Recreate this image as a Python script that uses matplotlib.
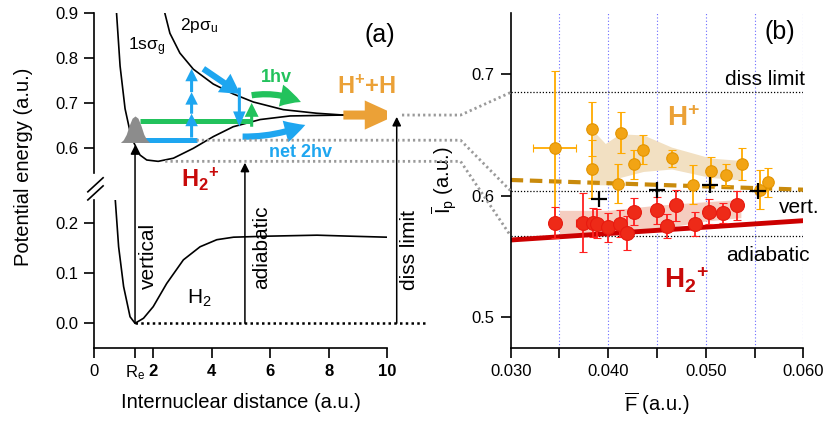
import numpy as np
import matplotlib
matplotlib.use('Agg')
import matplotlib.pyplot as plt
from matplotlib.patches import FancyArrowPatch, ConnectionPatch
from matplotlib.lines import Line2D

plt.rcParams['font.family'] = ['Liberation Sans', 'DejaVu Sans']
plt.rcParams['mathtext.fontset'] = 'custom'
plt.rcParams['mathtext.rm'] = 'Liberation Sans'
plt.rcParams['mathtext.it'] = 'Liberation Sans:italic'
plt.rcParams['mathtext.bf'] = 'Liberation Sans:bold'

# ---- panel (a): potential curves
h2_R = [0.71, 0.83, 1.00, 1.22, 1.39, 1.68, 2.01, 2.47, 3.04, 3.61, 4.18, 4.75, 5.9, 7.6, 8.74, 9.98]
h2_E = [0.250, 0.152, 0.073, 0.013, 0.0, 0.010, 0.033, 0.079, 0.126, 0.152, 0.166, 0.171, 0.173, 0.175, 0.173, 0.171]

sg_R = [0.70, 0.76, 0.88, 1.05, 1.22, 1.33, 1.56, 1.79, 2.18, 2.70, 3.38, 4.06, 4.74, 5.66, 6.68, 8.5]
sg_E = [0.96, 0.90, 0.783, 0.688, 0.637, 0.615, 0.585, 0.574, 0.571, 0.578, 0.600, 0.626, 0.648, 0.664, 0.672, 0.674]

su_R = [2.33, 2.41, 2.58, 2.92, 3.38, 4.06, 4.74, 5.43, 6.45, 7.59, 8.5]
su_E = [0.95, 0.90, 0.856, 0.812, 0.776, 0.743, 0.721, 0.703, 0.686, 0.678, 0.674]

# nuclear wavepacket sketch (offsets from Re, heights)
bell_dR = [-0.5, -0.4, -0.3, -0.2, -0.1, 0.0, 0.1, 0.2, 0.3, 0.4, 0.5]
bell_h = [0.0, 0.006, 0.018, 0.038, 0.054, 0.059, 0.054, 0.038, 0.018, 0.006, 0.0]

Re = 1.39
a_levels = {'diss': 0.674, 'vert': 0.618, 'adia': 0.571}
a_level_start = {'diss': 10.5, 'vert': 3.49, 'adia': 2.42}
arrow_R = {'vert': 1.39, 'adia': 5.14, 'diss': 10.32}
arrow_tip = {'vert': 0.607, 'adia': 0.568, 'diss': 0.670}

# ---- panel (b): measured ionization potentials
hp_F = [0.0345, 0.0383, 0.0383, 0.0413, 0.0410, 0.0426, 0.0436, 0.0465, 0.0487, 0.0505, 0.0521, 0.0537, 0.0556, 0.0564]
hp_Ip = [0.639, 0.655, 0.622, 0.652, 0.610, 0.626, 0.638, 0.631, 0.609, 0.620, 0.617, 0.626, 0.605, 0.611]
hp_err = [0.064, 0.022, 0.024, 0.017, 0.016, 0.012, 0.012, 0.007, 0.016, 0.012, 0.009, 0.013, 0.016, 0.012]
hp_xerr = [0.0022, 0.0003, 0, 0.0003, 0, 0, 0, 0, 0, 0, 0, 0.0003, 0, 0]

h2p_F = [0.0345, 0.0374, 0.0384, 0.0389, 0.0400, 0.0412, 0.0419, 0.0426, 0.0450, 0.0460, 0.0470, 0.0489, 0.0503, 0.0518, 0.0532]
h2p_Ip = [0.578, 0.578, 0.578, 0.577, 0.574, 0.577, 0.569, 0.587, 0.588, 0.575, 0.592, 0.577, 0.587, 0.586, 0.592]
h2p_err = [0.0125, 0.024, 0.012, 0.012, 0.012, 0.011, 0.014, 0.011, 0.011, 0.010, 0.013, 0.010, 0.010, 0.008, 0.012]
h2p_xerr = [0, 0.0007, 0, 0, 0, 0, 0, 0, 0, 0, 0, 0, 0, 0, 0]

vert_F = [0.0391, 0.0450, 0.0504, 0.0554]
vert_Ip = [0.597, 0.605, 0.609, 0.604]

hp_fit_F = [0.030, 0.060]
hp_fit_Ip = [0.613, 0.605]
h2p_fit_F = [0.030, 0.060]
h2p_fit_Ip = [0.5636, 0.5795]

hp_band_F = [0.0384, 0.0397, 0.0412, 0.0436, 0.0465, 0.0505, 0.0537]
hp_band_lo = [0.609, 0.609, 0.615, 0.620, 0.622, 0.615, 0.613]
hp_band_hi = [0.654, 0.643, 0.651, 0.650, 0.640, 0.631, 0.629]

h2p_band_F = [0.0350, 0.0400, 0.0447, 0.0498, 0.0536]
h2p_band_lo = [0.565, 0.568, 0.572, 0.579, 0.582]
h2p_band_hi = [0.588, 0.588, 0.592, 0.595, 0.597]

b_levels = {'diss': 0.685, 'vert': 0.604, 'adia': 0.567}
grid_F = [0.035, 0.040, 0.045, 0.050, 0.055, 0.060]

BLUE = '#1ea6f0'
GREEN = '#22c25c'
ORANGE = '#eba137'
DARKRED = '#c80a0a'
H2P = r'$\mathbf{H}_\mathbf{2}{}^\mathbf{+}$'

fig = plt.figure(figsize=(8.25, 4.21), dpi=100)
ax_top = fig.add_axes([0.1143, 0.589, 0.3552, 0.379])
ax_bot = fig.add_axes([0.1143, 0.1741, 0.3552, 0.351])
ax_b = fig.add_axes([0.619, 0.1741, 0.3547, 0.794])

for ax in (ax_top, ax_bot, ax_b):
    for s in ('top', 'right'):
        ax.spines[s].set_visible(False)
    for s in ('left', 'bottom'):
        ax.spines[s].set_linewidth(1.2)
    ax.tick_params(direction='out', length=7.5, width=1.2, labelsize=12, pad=4)
    ax.patch.set_alpha(0)
ax_top.spines['bottom'].set_visible(False)
ax_top.set_xticks([])

# ---------------- panel (a)
ax_top.set_xlim(0, 10)
ax_top.set_ylim(0.545, 0.9)
ax_top.set_yticks([0.6, 0.7, 0.8, 0.9])
ax_top.set_yticklabels(['0.6', '0.7', '0.8', '0.9'])
ax_bot.set_xlim(0, 10)
ax_bot.set_ylim(-0.0485, 0.245)
ax_bot.set_yticks([0.0, 0.1, 0.2])
ax_bot.set_yticklabels(['0.0', '0.1', '0.2'])
ax_bot.set_xticks([0, Re, 2, 4, 6, 8, 10])
ax_bot.set_xticklabels(['0', r'R$_\mathrm{e}$', '2', '4', '6', '8', '10'])
for lab in ax_bot.get_xticklabels()[2:]:
    lab.set_fontweight('bold')
ax_bot.set_xlabel('Internuclear distance (a.u.)', fontsize=14.5, labelpad=8)
fig.text(0.028, 0.603, 'Potential energy (a.u.)', rotation=90, fontsize=14.5,
         ha='center', va='center')

ax_bot.plot(h2_R, h2_E, color='k', lw=1.2)
ax_top.plot(sg_R, sg_E, color='k', lw=1.2)
ax_top.plot(su_R, su_E, color='k', lw=1.2)
ax_bot.plot([Re, 11.3], [0, 0], color='k', lw=1.8, ls=(0, (1, 1.3)), clip_on=False)

# break marks on the y axis
for dy in (0.0, 0.055):
    ax_bot.plot([-0.022, 0.03], [1.0 + dy, 1.095 + dy], color='k', lw=1.2,
                transform=ax_bot.transAxes, clip_on=False)

# photon paths
ax_top.plot([1.56, 5.37], [0.660, 0.660], color=GREEN, lw=3.6, solid_capstyle='butt', zorder=3)
ax_top.plot([1.56, 3.49], [a_levels['vert'], a_levels['vert']], color=BLUE, lw=3.6,
            solid_capstyle='butt', zorder=3)
bx = [Re + d for d in bell_dR]
ax_top.fill_between(bx, 0.613, [0.613 + h for h in bell_h], color='#8c8c8c', lw=0, zorder=4)


def arrow(ax, p0, p1, color, hw, hl, tw, rad=0.0, z=5):
    a = FancyArrowPatch(p0, p1, mutation_scale=10, color=color, lw=0,
                        arrowstyle=f'simple,head_width={hw},head_length={hl},tail_width={tw}',
                        connectionstyle=f'arc3,rad={rad}', shrinkA=0, shrinkB=0, zorder=z)
    ax.add_patch(a)


for e0, e1 in [(0.624, 0.677), (0.677, 0.725), (0.725, 0.777)]:
    arrow(ax_top, (3.32, e0), (3.32, e1), BLUE, 0.9, 0.9, 0.22)
arrow(ax_top, (3.72, 0.777), (4.98, 0.721), BLUE, 1.6, 1.4, 0.45)
arrow(ax_top, (4.95, 0.735), (4.95, 0.648), BLUE, 0.9, 1.1, 0.22)
arrow(ax_top, (5.37, 0.648), (5.37, 0.701), GREEN, 1.0, 1.0, 0.22)
arrow(ax_top, (5.37, 0.718), (7.05, 0.703), GREEN, 1.6, 1.5, 0.45, rad=-0.15)
arrow(ax_top, (5.06, 0.626), (7.2, 0.652), BLUE, 1.6, 1.5, 0.45, rad=0.1)
arrow(ax_top, (8.5, 0.674), (10.32, 0.674), ORANGE, 2.1, 2.3, 0.65)

for k in ('vert', 'adia', 'diss'):
    con = ConnectionPatch(xyA=(arrow_R[k], 0.0), coordsA=ax_bot.transData,
                          xyB=(arrow_R[k], arrow_tip[k]), coordsB=ax_top.transData,
                          arrowstyle='-|>', mutation_scale=13, lw=1.1, color='k',
                          shrinkA=0, shrinkB=0)
    fig.add_artist(con)

ax_top.text(1.77, 0.826, r'1sσ$_\mathrm{g}$', fontsize=12.5, ha='center', va='center')
ax_top.text(3.56, 0.874, r'2pσ$_\mathrm{u}$', fontsize=12.5, ha='center', va='center')
ax_top.text(9.75, 0.852, '(a)', fontsize=18, ha='center', va='center')
ax_top.text(6.2, 0.758, '1hv', fontsize=13, color=GREEN, fontweight='bold', ha='center', va='center')
ax_top.text(9.3, 0.735, r'$\mathbf{H^{+}}$+H', fontsize=17, color=ORANGE, fontweight='bold',
            ha='center', va='center', clip_on=False)
ax_top.text(7.02, 0.591, 'net 2hv', fontsize=13, color=BLUE, fontweight='bold', ha='center', va='center')
ax_top.text(3.61, 0.530, H2P, fontsize=17, color=DARKRED, ha='center', va='center',
            clip_on=False)
ax_bot.text(1.86, 0.134, 'vertical', rotation=90, fontsize=15, ha='center', va='center')
ax_bot.text(5.71, 0.152, 'adiabatic', rotation=90, fontsize=15, ha='center', va='center')
ax_bot.text(10.74, 0.145, 'diss limit', rotation=90, fontsize=15, ha='center', va='center', clip_on=False)
ax_bot.text(3.6, 0.05, r'H$_2$', fontsize=15, ha='center', va='center')

# ---------------- panel (b)
ax_b.set_xlim(0.030, 0.060)
ax_b.set_ylim(0.475, 0.75)
ax_b.set_xticks([0.030, 0.040, 0.050, 0.060])
ax_b.set_xticklabels(['0.030', '0.040', '0.050', '0.060'])
ax_b.set_xticks([0.035, 0.045, 0.055], minor=True)
ax_b.tick_params(which='minor', direction='out', length=7.5, width=1.2)
ax_b.set_yticks([0.5, 0.6, 0.7])
ax_b.set_yticklabels(['0.5', '0.6', '0.7'])
ax_b.set_xlabel(r'$\overline{\mathrm{F}}$ (a.u.)', fontsize=14.5, labelpad=8)
ax_b.set_ylabel(r'$\overline{\mathrm{I}}_\mathrm{p}$ (a.u.)', fontsize=14.5, labelpad=9)

for f in grid_F:
    ax_b.axvline(f, color='#6a6aff', lw=0.8, ls=(0, (1, 2)), zorder=0)
for k in ('diss', 'vert', 'adia'):
    ax_b.axhline(b_levels[k], color='k', lw=0.9, ls=(0, (1, 1.5)), zorder=1)

ax_b.fill_between(hp_band_F, hp_band_lo, hp_band_hi, color='#f2e0c2', lw=0, zorder=1)
ax_b.fill_between(h2p_band_F, h2p_band_lo, h2p_band_hi, color='#f5cdc0', lw=0, zorder=1)
ax_b.plot(hp_fit_F, hp_fit_Ip, color='#c98a0c', lw=3, ls=(0, (3, 1.6)), zorder=2)
ax_b.plot(h2p_fit_F, h2p_fit_Ip, color='#cc0000', lw=3.5, zorder=2)

ax_b.errorbar(hp_F, hp_Ip, yerr=hp_err, xerr=hp_xerr, fmt='o', ms=8.3, mfc='#f2a414',
              mec='#e39400', mew=0.8, ecolor='#ffaa00', elinewidth=1.3, capsize=3,
              capthick=1.3, zorder=3)
ax_b.errorbar(h2p_F, h2p_Ip, yerr=h2p_err, xerr=h2p_xerr, fmt='o', ms=10, mfc='#ee2a18',
              mec='#e81a10', mew=0.8, ecolor='#ff2020', elinewidth=1.3, capsize=3,
              capthick=1.3, zorder=3)
ax_b.plot(vert_F, vert_Ip, '+', color='k', ms=12, mew=1.6, zorder=4)

ax_b.text(0.0576, 0.735, '(b)', fontsize=18, ha='center', va='center')
ax_b.text(0.0602, 0.696, 'diss limit', fontsize=15, ha='right', va='center')
ax_b.text(0.0575, 0.590, 'vert.', fontsize=15, ha='left', va='center', clip_on=False)
ax_b.text(0.0606, 0.551, 'adiabatic', fontsize=15, ha='right', va='center', clip_on=False)
ax_b.text(0.0477, 0.663, r'$\mathbf{H^{+}}$', fontsize=20, color=ORANGE, ha='center', va='center')
ax_b.text(0.0480, 0.531, H2P, fontsize=20, color=DARKRED, ha='center', va='center')

# grey dotted connectors from (a) levels to (b) levels
kink_R = 12.5
inv = fig.transFigure.inverted()
for k in ('diss', 'vert', 'adia'):
    pts = [ax_top.transData.transform((a_level_start[k], a_levels[k])),
           ax_top.transData.transform((kink_R, a_levels[k])),
           ax_b.transData.transform((0.030, b_levels[k]))]
    pts = inv.transform(np.array(pts))
    fig.add_artist(Line2D(pts[:, 0], pts[:, 1], transform=fig.transFigure,
                          color='#9a9a9a', lw=2.0, ls=(0, (0.8, 1.1))))

fig.savefig('out.png', dpi=100)
